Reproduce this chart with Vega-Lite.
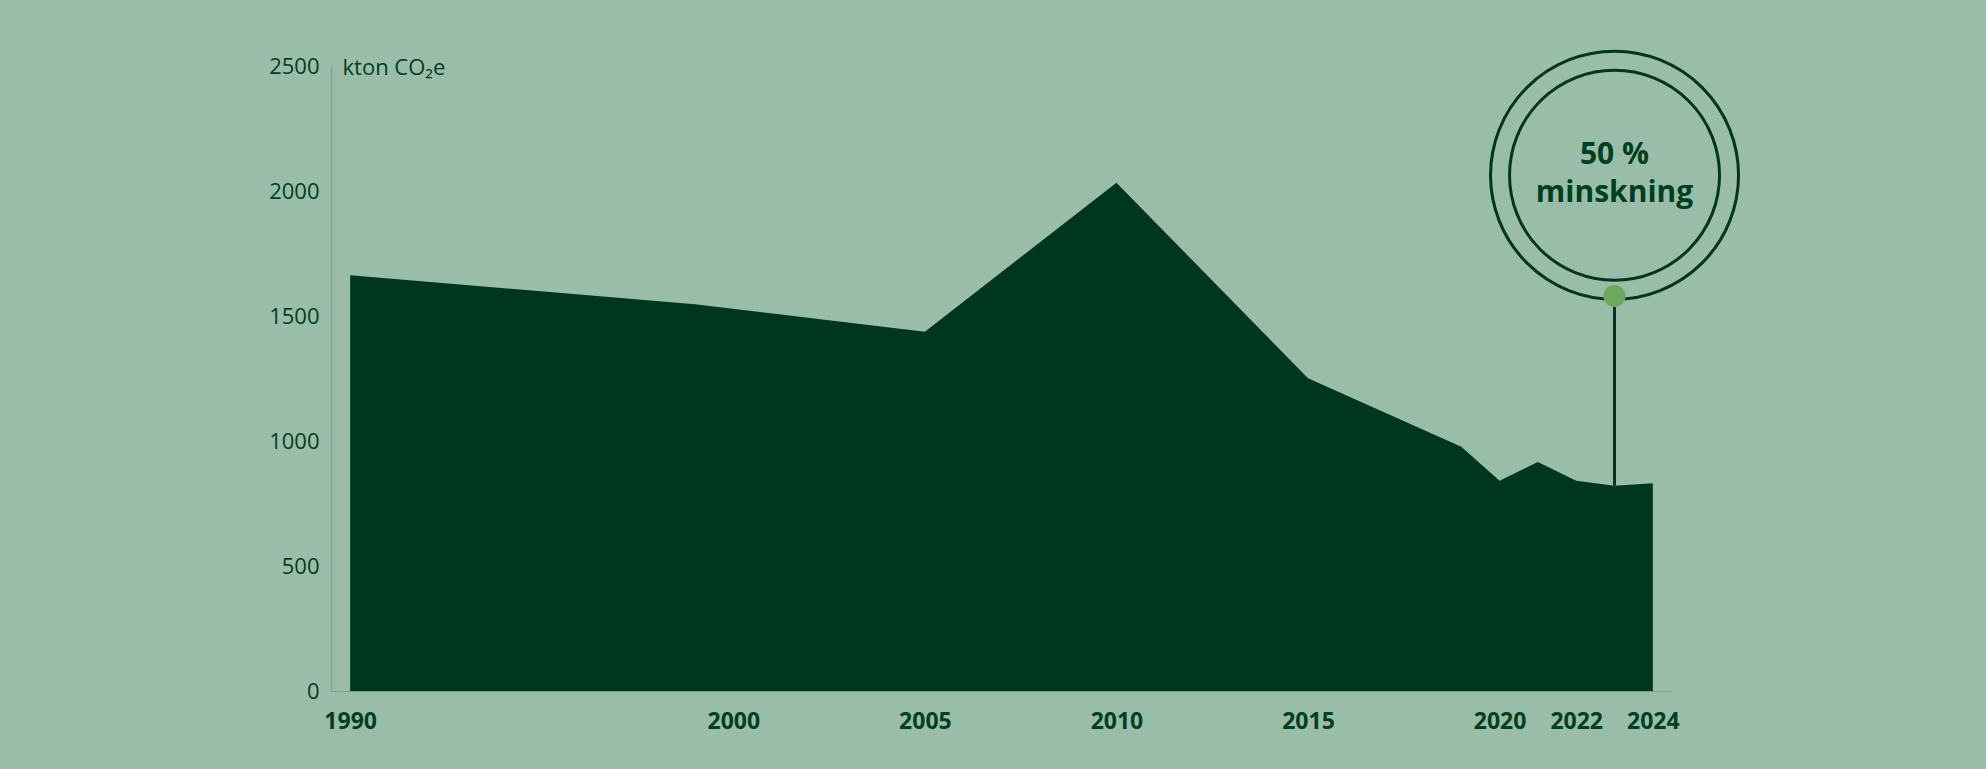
{
  "$schema": "https://vega.github.io/schema/vega-lite/v6.json",
  "width": 1341,
  "height": 625,
  "autosize": {"type": "none"},
  "padding": {"left": 331, "top": 66, "right": 314, "bottom": 78},
  "background": "#9abda9",
  "config": {
    "view": {"stroke": null},
    "font": "Open Sans"
  },
  "datasets": {
    "emissions": [
      {"year": 1990, "kton": 1663},
      {"year": 1999, "kton": 1547},
      {"year": 2005, "kton": 1437},
      {"year": 2010, "kton": 2033},
      {"year": 2015, "kton": 1251},
      {"year": 2019, "kton": 977},
      {"year": 2020, "kton": 841},
      {"year": 2021, "kton": 916},
      {"year": 2022, "kton": 841},
      {"year": 2023, "kton": 821},
      {"year": 2024, "kton": 831}
    ],
    "marker": [
      {"year": 2023, "top": 1580, "bottom": 821}
    ],
    "rings": [
      {"year": 2023, "kton": 2063, "ring": "outer", "diameter": 61504},
      {"year": 2023, "kton": 2063, "ring": "inner", "diameter": 44100}
    ],
    "labels": [
      {"year": 2023, "kton": 2144, "text": "50 %"},
      {"year": 2023, "kton": 1991, "text": "minskning"}
    ]
  },
  "layer": [
    {
      "data": {"name": "emissions"},
      "mark": {"type": "area", "color": "#00351e", "interpolate": "linear"},
      "encoding": {
        "x": {
          "field": "year",
          "type": "quantitative",
          "scale": {"domain": [1989.5, 2024.5], "nice": false, "zero": false},
          "axis": {
            "values": [1990, 2000, 2005, 2010, 2015, 2020, 2022, 2024],
            "format": "d",
            "title": null,
            "grid": false,
            "ticks": false,
            "domainColor": "#7d9d8a",
            "domainWidth": 1.2,
            "labelFont": "Open Sans",
            "labelFontWeight": "bold",
            "labelFontSize": 23,
            "labelColor": "#00401f",
            "labelPadding": 19
          }
        },
        "y": {
          "field": "kton",
          "type": "quantitative",
          "scale": {"domain": [0, 2500], "nice": false},
          "axis": {
            "values": [0, 500, 1000, 1500, 2000, 2500],
            "format": "d",
            "title": "kton CO₂e",
            "titleAngle": 0,
            "titleAlign": "left",
            "titleBaseline": "middle",
            "titleX": 11,
            "titleY": 1,
            "titleFont": "Open Sans",
            "titleFontSize": 22,
            "titleFontWeight": "normal",
            "titleColor": "#00401f",
            "grid": false,
            "ticks": false,
            "domainColor": "#7d9d8a",
            "domainWidth": 1.2,
            "labelFont": "Open Sans",
            "labelFontSize": 22,
            "labelColor": "#00401f",
            "labelPadding": 12
          }
        }
      }
    },
    {
      "data": {"name": "marker"},
      "mark": {"type": "rule", "color": "#00351e", "strokeWidth": 3},
      "encoding": {
        "x": {"field": "year", "type": "quantitative"},
        "y": {"field": "top", "type": "quantitative"},
        "y2": {"field": "bottom"}
      }
    },
    {
      "data": {"name": "rings"},
      "mark": {"type": "point", "shape": "circle", "filled": false, "stroke": "#00351e", "strokeWidth": 3, "opacity": 1},
      "encoding": {
        "x": {"field": "year", "type": "quantitative"},
        "y": {"field": "kton", "type": "quantitative"},
        "size": {"field": "diameter", "type": "quantitative", "scale": null}
      }
    },
    {
      "data": {"name": "marker"},
      "mark": {"type": "point", "shape": "circle", "filled": true, "color": "#6ca85d", "size": 484, "opacity": 1},
      "encoding": {
        "x": {"field": "year", "type": "quantitative"},
        "y": {"field": "top", "type": "quantitative"}
      }
    },
    {
      "data": {"name": "labels"},
      "mark": {"type": "text", "font": "Open Sans", "fontWeight": "bold", "fontSize": 30, "color": "#00401f", "align": "center", "baseline": "middle"},
      "encoding": {
        "x": {"field": "year", "type": "quantitative"},
        "y": {"field": "kton", "type": "quantitative"},
        "text": {"field": "text"}
      }
    }
  ]
}
